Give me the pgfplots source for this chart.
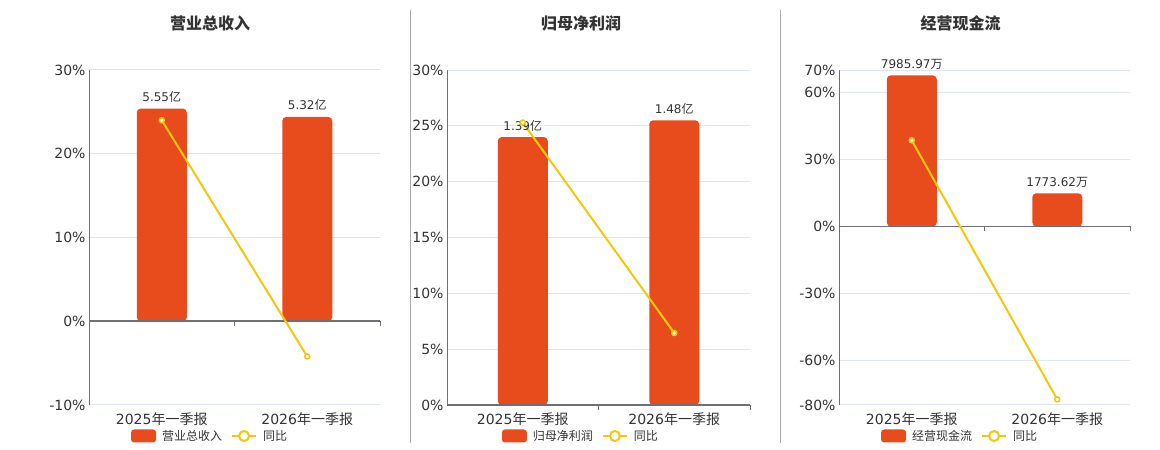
\documentclass[border=0pt]{standalone}
\usepackage{pgfplots}
\pgfplotsset{compat=1.18}
\usepackage{fontspec}
\setmainfont{DejaVu Sans}
\newfontfamily\cjk{Noto Sans CJK SC}
\XeTeXinterchartokenstate=1
\newXeTeXintercharclass\CJKcls
\newcount\tmpc
\tmpc="4E00
\loop\XeTeXcharclass\tmpc=\CJKcls \ifnum\tmpc<"9FFF \advance\tmpc by 1 \repeat
\XeTeXinterchartoks 0 \CJKcls = {\begingroup\cjk}
\XeTeXinterchartoks 4095 \CJKcls = {\begingroup\cjk}
\XeTeXinterchartoks \CJKcls 0 = {\endgroup}
\XeTeXinterchartoks \CJKcls 4095 = {\endgroup}
\definecolor{cBar}{HTML}{E84C1C}
\definecolor{cLine}{HTML}{F2C80C}
\definecolor{cTxt}{HTML}{333333}
\definecolor{cGrid}{HTML}{E0E6F1}
\definecolor{cAxis}{HTML}{6E7079}
\definecolor{cSep}{HTML}{AAAAAA}
\pgfplotsset{
  panel/.style={
    scale only axis, height=335pt,
    xmin=-0.5, xmax=1.5,
    axis y line*=left, axis x line*=bottom,
    x axis line style={draw=none},
    y axis line style={draw=cAxis, line width=1pt},
    xtick={0,1}, xticklabels={2025年一季报,2026年一季报},
    major tick length=0pt,
    ymajorgrids, grid style={draw=cGrid, line width=1pt},
    tick label style={font=\fontsize{14pt}{16pt}\selectfont, text=cTxt},
    xticklabel style={yshift=-4pt},
    clip=false,
    legend columns=2,
    legend cell align=left,
    legend style={draw=none, fill=none, anchor=center,
      font=\fontsize{12pt}{14pt}\selectfont, text=cTxt,
      /tikz/every odd column/.append style={column sep=4pt},
      /tikz/every even column/.append style={column sep=7pt}},
  },
  barplot/.style={ybar, bar shift=0pt, bar width=50pt, fill=cBar, draw=none, rounded corners=4pt,
    nodes near coords, point meta=explicit symbolic,
    nodes near coords style={font=\fontsize{12pt}{14pt}\selectfont, text=cTxt, anchor=south, yshift=2.5pt},
    legend image code/.code={\fill[cBar, rounded corners=3pt] (0pt,-6.5pt) rectangle (25pt,6.5pt);}},
  barbase/.style={ybar, bar shift=0pt, bar width=47pt, fill=cBar, draw=none, sharp corners,
    y filter/.expression={0.3*y}, forget plot},
  lineplot/.style={cLine, line width=2pt, mark=*, mark size=2.5pt,
    mark options={fill=white, draw=cLine, line width=1.5pt},
    legend image code/.code={\draw[cLine, line width=2pt] (0pt,0pt) -- (24pt,0pt);
      \draw[cLine, line width=2pt, fill=white] (12pt,0pt) circle (5pt);}},
}
\pgfplotstableread{
x y
0 25.4
1 24.4
}\barsA
\pgfplotstableread{
x y
0 24.0
1 25.5
}\barsB
\pgfplotstableread{
x y
0 67.6
1 14.8
}\barsC
\begin{document}
\begin{tikzpicture}
\path[use as bounding box] (0pt,0pt) rectangle (1160pt,450pt);
\draw[cSep, line width=1pt] (410.5pt,7pt) -- (410.5pt,440pt);
\draw[cSep, line width=1pt] (780.5pt,7pt) -- (780.5pt,440pt);
\node[font=\fontsize{16pt}{18pt}\selectfont\bfseries, text=cTxt] at (210pt,427pt) {营业总收入};
\node[font=\fontsize{16pt}{18pt}\selectfont\bfseries, text=cTxt] at (581pt,427pt) {归母净利润};
\node[font=\fontsize{16pt}{18pt}\selectfont\bfseries, text=cTxt] at (960.5pt,427pt) {经营现金流};

% Panel 1
\begin{axis}[panel, at={(89pt,45pt)}, anchor=south west, width=291pt,
  ymin=-10, ymax=30, ytick={-10,0,10,20,30},
  yticklabels={-10\%,0\%,10\%,20\%,30\%},
  legend style={at={(axis description cs:0.416,-0.0925)}}]
\addplot[barbase] table[x=x,y=y] {\barsA};
\addplot[barplot] coordinates {(0,25.4) [5.55亿] (1,24.4) [5.32亿]};
\addlegendentry{营业总收入}
\draw[cAxis, line width=1.5pt] (axis cs:-0.5,0) -- (axis cs:1.5,0);
\draw[cAxis, line width=1pt] (axis cs:0.5,0) -- ++(0pt,-5pt);
\draw[cAxis, line width=1pt] (axis cs:1.5,0) -- ++(0pt,-5pt);
\addplot[lineplot] coordinates {(0,24.0) (1,-4.2)};
\addlegendentry{同比}
\end{axis}

% Panel 2
\begin{axis}[panel, at={(447pt,45pt)}, anchor=south west, width=303pt,
  ymin=0, ymax=30, ytick={0,5,10,15,20,25,30},
  yticklabels={0\%,5\%,10\%,15\%,20\%,25\%,30\%},
  legend style={at={(axis description cs:0.442,-0.0925)}}]
\addplot[barbase] table[x=x,y=y] {\barsB};
\addplot[barplot] coordinates {(0,24.0) [1.39亿] (1,25.5) [1.48亿]};
\addlegendentry{归母净利润}
\draw[cAxis, line width=1.5pt] (axis cs:-0.5,0) -- (axis cs:1.5,0);
\draw[cAxis, line width=1pt] (axis cs:0.5,0) -- ++(0pt,-5pt);
\draw[cAxis, line width=1pt] (axis cs:1.5,0) -- ++(0pt,-5pt);
\addplot[lineplot] coordinates {(0,25.3) (1,6.45)};
\addlegendentry{同比}
\end{axis}

% Panel 3
\begin{axis}[panel, at={(839pt,45pt)}, anchor=south west, width=291pt,
  ymin=-80, ymax=70, ytick={-80,-60,-30,0,30,60,70},
  yticklabels={-80\%,-60\%,-30\%,0\%,30\%,60\%,70\%},
  legend style={at={(axis description cs:0.416,-0.0925)}}]
\addplot[barbase] table[x=x,y=y] {\barsC};
\addplot[barplot] coordinates {(0,67.6) [7985.97万] (1,14.8) [1773.62万]};
\addlegendentry{经营现金流}
\draw[cAxis, line width=1.5pt] (axis cs:-0.5,0) -- (axis cs:1.5,0);
\draw[cAxis, line width=1pt] (axis cs:0.5,0) -- ++(0pt,-5pt);
\draw[cAxis, line width=1pt] (axis cs:1.5,0) -- ++(0pt,-5pt);
\addplot[lineplot] coordinates {(0,38.5) (1,-77.5)};
\addlegendentry{同比}
\end{axis}
\end{tikzpicture}
\end{document}
